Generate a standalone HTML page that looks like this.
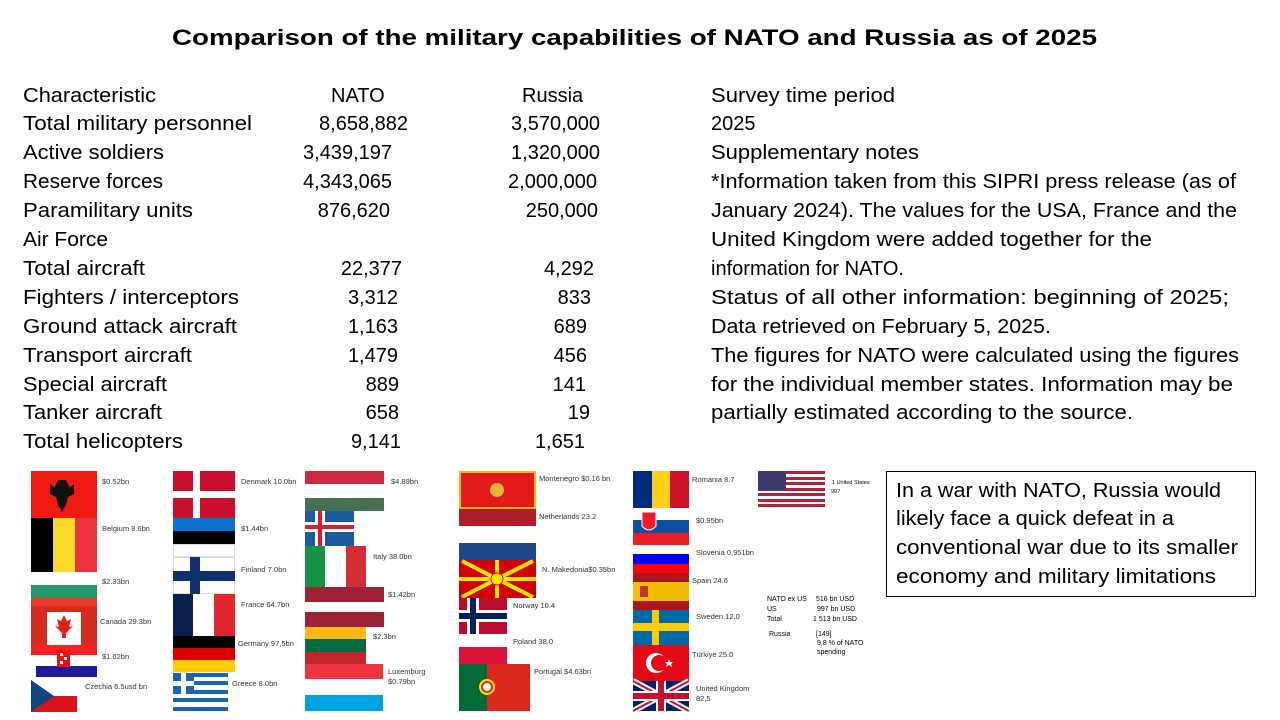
<!DOCTYPE html>
<html><head><meta charset="utf-8"><style>
html,body{margin:0;padding:0;background:#fff;}
svg{display:block}
text{font-family:"Liberation Sans",sans-serif;fill:#000}
.t{font-size:20px}
.s{font-size:7.5px;fill:#333}
</style></head><body>
<svg width="1280" height="720" viewBox="0 0 1280 720">
<rect width="1280" height="720" fill="#fff"/>
<text x="172" y="45" font-size="22" font-weight="bold" textLength="925" lengthAdjust="spacingAndGlyphs">Comparison of the military capabilities of NATO and Russia as of 2025</text>
<g class="t">
<text class="t" x="23" y="102" textLength="133" lengthAdjust="spacingAndGlyphs">Characteristic</text>
<text class="t" x="23" y="130" textLength="229" lengthAdjust="spacingAndGlyphs">Total military personnel</text>
<text class="t" x="23" y="159" textLength="141" lengthAdjust="spacingAndGlyphs">Active soldiers</text>
<text class="t" x="23" y="188" textLength="140" lengthAdjust="spacingAndGlyphs">Reserve forces</text>
<text class="t" x="23" y="217" textLength="170" lengthAdjust="spacingAndGlyphs">Paramilitary units</text>
<text class="t" x="23" y="246" textLength="85" lengthAdjust="spacingAndGlyphs">Air Force</text>
<text class="t" x="23" y="275" textLength="122" lengthAdjust="spacingAndGlyphs">Total aircraft</text>
<text class="t" x="23" y="304" textLength="216" lengthAdjust="spacingAndGlyphs">Fighters / interceptors</text>
<text class="t" x="23" y="333" textLength="214" lengthAdjust="spacingAndGlyphs">Ground attack aircraft</text>
<text class="t" x="23" y="362" textLength="169" lengthAdjust="spacingAndGlyphs">Transport aircraft</text>
<text class="t" x="23" y="391" textLength="144" lengthAdjust="spacingAndGlyphs">Special aircraft</text>
<text class="t" x="23" y="419" textLength="139" lengthAdjust="spacingAndGlyphs">Tanker aircraft</text>
<text class="t" x="23" y="448" textLength="160" lengthAdjust="spacingAndGlyphs">Total helicopters</text>

<text class="t" x="331" y="102">NATO</text>
<text class="t" x="408" y="130" text-anchor="end">8,658,882</text>
<text class="t" x="392" y="159" text-anchor="end">3,439,197</text>
<text class="t" x="392" y="188" text-anchor="end">4,343,065</text>
<text class="t" x="390" y="217" text-anchor="end">876,620</text>
<text class="t" x="402" y="275" text-anchor="end">22,377</text>
<text class="t" x="398" y="304" text-anchor="end">3,312</text>
<text class="t" x="398" y="333" text-anchor="end">1,163</text>
<text class="t" x="398" y="362" text-anchor="end">1,479</text>
<text class="t" x="399" y="391" text-anchor="end">889</text>
<text class="t" x="399" y="419" text-anchor="end">658</text>
<text class="t" x="401" y="448" text-anchor="end">9,141</text>

<text class="t" x="522" y="102">Russia</text>
<text class="t" x="600" y="130" text-anchor="end">3,570,000</text>
<text class="t" x="600" y="159" text-anchor="end">1,320,000</text>
<text class="t" x="597" y="188" text-anchor="end">2,000,000</text>
<text class="t" x="598" y="217" text-anchor="end">250,000</text>
<text class="t" x="594" y="275" text-anchor="end">4,292</text>
<text class="t" x="591" y="304" text-anchor="end">833</text>
<text class="t" x="587" y="333" text-anchor="end">689</text>
<text class="t" x="587" y="362" text-anchor="end">456</text>
<text class="t" x="586" y="391" text-anchor="end">141</text>
<text class="t" x="590" y="419" text-anchor="end">19</text>
<text class="t" x="585" y="448" text-anchor="end">1,651</text>

<text class="t" x="711" y="102" textLength="184" lengthAdjust="spacingAndGlyphs">Survey time period</text>
<text class="t" x="711" y="130">2025</text>
<text class="t" x="711" y="159" textLength="208" lengthAdjust="spacingAndGlyphs">Supplementary notes</text>
<text class="t" x="711" y="188" textLength="525" lengthAdjust="spacingAndGlyphs">*Information taken from this SIPRI press release (as of</text>
<text class="t" x="711" y="217" textLength="526" lengthAdjust="spacingAndGlyphs">January 2024). The values for the USA, France and the</text>
<text class="t" x="711" y="246" textLength="441" lengthAdjust="spacingAndGlyphs">United Kingdom were added together for the</text>
<text class="t" x="711" y="275" textLength="193" lengthAdjust="spacingAndGlyphs">information for NATO.</text>
<text class="t" x="711" y="304" textLength="518" lengthAdjust="spacingAndGlyphs">Status of all other information: beginning of 2025;</text>
<text class="t" x="711" y="333" textLength="340" lengthAdjust="spacingAndGlyphs">Data retrieved on February 5, 2025.</text>
<text class="t" x="711" y="362" textLength="528" lengthAdjust="spacingAndGlyphs">The figures for NATO were calculated using the figures</text>
<text class="t" x="711" y="391" textLength="522" lengthAdjust="spacingAndGlyphs">for the individual member states. Information may be</text>
<text class="t" x="711" y="419" textLength="422" lengthAdjust="spacingAndGlyphs">partially estimated according to the source.</text>
</g>

<rect x="886.5" y="471.5" width="369" height="125" fill="#fff" stroke="#000" stroke-width="1"/>
<text class="t" x="896" y="497" textLength="325" lengthAdjust="spacingAndGlyphs">In a war with NATO, Russia would</text>
<text class="t" x="896" y="525" textLength="278" lengthAdjust="spacingAndGlyphs">likely face a quick defeat in a</text>
<text class="t" x="896" y="554" textLength="342" lengthAdjust="spacingAndGlyphs">conventional war due to its smaller</text>
<text class="t" x="896" y="583" textLength="320" lengthAdjust="spacingAndGlyphs">economy and military limitations</text>

<!-- Column 1 -->
<rect x="31" y="471" width="66" height="47" fill="#f01a12"/>
<path d="M58 480 L66 480 L70 488 L66 505 L62 512 L58 505 L54 488 Z" fill="#111"/>
<path d="M50 484 L58 490 L58 498 L50 494 Z M74 484 L66 490 L66 498 L74 494 Z" fill="#111"/>
<rect x="31" y="518" width="22" height="54" fill="#000"/>
<rect x="53" y="518" width="22" height="54" fill="#fbd92a"/>
<rect x="75" y="518" width="22" height="54" fill="#ee3340"/>
<rect x="31" y="585" width="66" height="13" fill="#27976a"/>
<rect x="31" y="598" width="66" height="47" fill="#d52b1e"/>
<rect x="31" y="598" width="66" height="8" fill="#e8392d"/>
<rect x="47" y="612" width="34" height="33" fill="#fff"/>
<path d="M64 615 L67 621 L71 619 L69 627 L73 626 L66 633 L66 638 L62 638 L62 633 L55 626 L59 627 L57 619 L61 621 Z" fill="#e2201e"/>
<rect x="31" y="645" width="66" height="10" fill="#f41f20"/>
<rect x="31" y="655" width="66" height="11" fill="#fff"/>
<rect x="36" y="666" width="61" height="11" fill="#1d1b9b"/>
<rect x="57" y="650" width="13" height="17" fill="#e11" />
<rect x="60" y="653" width="3" height="3" fill="#fff"/><rect x="64" y="657" width="3" height="3" fill="#fff"/><rect x="60" y="661" width="3" height="3" fill="#fff"/>
<rect x="31" y="680" width="46" height="16" fill="#fff"/>
<rect x="31" y="696" width="46" height="16" fill="#d7141a"/>
<path d="M31 680 L54 696 L31 712 Z" fill="#11457e"/>
<text class="s" x="102" y="484">$0.52bn</text>
<text class="s" x="102" y="531">Belgium 8.6bn</text>
<text class="s" x="102" y="584">$2.33bn</text>
<text class="s" x="100" y="624">Canada 29.3bn</text>
<text class="s" x="102" y="659">$1.62bn</text>
<text class="s" x="85" y="689">Czechia 6.5usd bn</text>

<!-- Column 2 -->
<rect x="173" y="471" width="62" height="20" fill="#c8102e"/>
<rect x="193" y="471" width="7" height="20" fill="#fff"/>
<rect x="173" y="498" width="62" height="20" fill="#c8102e"/>
<rect x="193" y="498" width="7" height="20" fill="#fff"/>
<rect x="173" y="518" width="62" height="13" fill="#0a72cf"/>
<rect x="173" y="531" width="62" height="13" fill="#000"/>
<rect x="173.5" y="544.5" width="61" height="12" fill="#fff" stroke="#ddd"/>
<rect x="173.5" y="557.5" width="61" height="36" fill="#fff" stroke="#ddd"/>
<rect x="190" y="557" width="10" height="37" fill="#102f6f"/>
<rect x="173" y="571" width="62" height="10" fill="#102f6f"/>
<rect x="173" y="594" width="20" height="42" fill="#0b1f4f"/>
<rect x="214" y="594" width="21" height="42" fill="#e1262e"/>
<rect x="173" y="636" width="62" height="12" fill="#000"/>
<rect x="173" y="648" width="62" height="12" fill="#dd0000"/>
<rect x="173" y="660" width="62" height="12" fill="#ffce00"/>
<g fill="#1b63b5">
<rect x="173" y="673" width="55" height="4"/><rect x="173" y="681" width="55" height="4"/><rect x="173" y="690" width="55" height="4"/><rect x="173" y="698" width="55" height="4"/><rect x="173" y="707" width="55" height="4"/>
<rect x="173" y="673" width="21" height="21"/>
</g>
<rect x="181" y="673" width="5" height="21" fill="#fff"/><rect x="173" y="681" width="21" height="5" fill="#fff"/>
<text class="s" x="241" y="484">Denmark 10.0bn</text>
<text class="s" x="241" y="531">$1.44bn</text>
<text class="s" x="241" y="572">Finland 7.0bn</text>
<text class="s" x="241" y="607">France 64.7bn</text>
<text class="s" x="238" y="646">Germany 97,5bn</text>
<text class="s" x="232" y="686">Greece 8.0bn</text>

<!-- Column 3 -->
<rect x="305" y="471" width="79" height="13" fill="#cd2a3e"/>
<rect x="305" y="498" width="79" height="13" fill="#477050"/>
<rect x="305" y="511" width="49" height="35" fill="#1d5aa4"/>
<rect x="315" y="511" width="10" height="35" fill="#fff"/>
<rect x="305" y="522" width="49" height="10" fill="#fff"/>
<rect x="318" y="511" width="4" height="35" fill="#dc1e35"/>
<rect x="305" y="525" width="49" height="4" fill="#dc1e35"/>
<rect x="305" y="546" width="20" height="41" fill="#159347"/>
<rect x="346" y="546" width="20" height="41" fill="#d32e33"/>
<rect x="305" y="587" width="79" height="15" fill="#9e2236"/>
<rect x="305" y="612" width="79" height="15" fill="#9e2236"/>
<rect x="305" y="627" width="61" height="12" fill="#fdb913"/>
<rect x="305" y="639" width="61" height="13" fill="#006a44"/>
<rect x="305" y="652" width="61" height="12" fill="#c1272d"/>
<rect x="305" y="664" width="78" height="15" fill="#ef3340"/>
<rect x="305" y="695" width="78" height="16" fill="#00a2e1"/>
<text class="s" x="391" y="484">$4.89bn</text>
<text class="s" x="373" y="559">Italy 38.0bn</text>
<text class="s" x="388" y="597">$1.42bn</text>
<text class="s" x="373" y="639">$2.3bn</text>
<text class="s" x="388" y="674">Luxemburg</text>
<text class="s" x="388" y="684">$0.79bn</text>

<!-- Column 4 -->
<rect x="459" y="471" width="77" height="38" fill="#f5b71c"/>
<rect x="461" y="473" width="73" height="34" fill="#e21a1a"/>
<circle cx="497" cy="490" r="7" fill="#e9b23a"/>
<rect x="459" y="509" width="77" height="17" fill="#ae1c28"/>
<rect x="459" y="543" width="77" height="17" fill="#21468b"/>
<rect x="459" y="560" width="77" height="38" fill="#d20000"/>
<g stroke="#ffe600" stroke-width="4">
<line x1="497" y1="579" x2="459" y2="579"/><line x1="497" y1="579" x2="536" y2="579"/>
<line x1="497" y1="579" x2="497" y2="560"/><line x1="497" y1="579" x2="497" y2="598"/>
<line x1="497" y1="579" x2="462" y2="561"/><line x1="497" y1="579" x2="533" y2="561"/>
<line x1="497" y1="579" x2="462" y2="597"/><line x1="497" y1="579" x2="533" y2="597"/>
</g>
<circle cx="497" cy="579" r="6" fill="#ffe600" stroke="#d20000" stroke-width="1"/>
<rect x="459" y="598" width="48" height="36" fill="#ba0c2f"/>
<rect x="467" y="598" width="12" height="36" fill="#fff"/>
<rect x="459" y="610" width="48" height="12" fill="#fff"/>
<rect x="470" y="598" width="6" height="36" fill="#00205b"/>
<rect x="459" y="613" width="48" height="6" fill="#00205b"/>
<rect x="459" y="647" width="48" height="17" fill="#dc143c"/>
<rect x="459" y="664" width="28" height="47" fill="#046a38"/>
<rect x="487" y="664" width="43" height="47" fill="#da291c"/>
<circle cx="487" cy="687" r="8" fill="#ffe900"/>
<circle cx="487" cy="687" r="5" fill="#fff" stroke="#da291c" stroke-width="2"/>
<text class="s" x="539" y="481">Montenegro $0.16 bn</text>
<text class="s" x="539" y="519">Netherlands 23.2</text>
<text class="s" x="542" y="572">N. Makedonia$0.35bn</text>
<text class="s" x="513" y="608">Norway 10.4</text>
<text class="s" x="513" y="644">Poland 38.0</text>
<text class="s" x="534" y="674">Portugal $4.63bn</text>

<!-- Column 5 -->
<rect x="633" y="471" width="19" height="37" fill="#002b7f"/>
<rect x="652" y="471" width="18" height="37" fill="#fcd116"/>
<rect x="670" y="471" width="19" height="37" fill="#ce1126"/>
<rect x="633" y="508" width="56" height="12" fill="#fff"/>
<rect x="633" y="520" width="56" height="13" fill="#0b4ea2"/>
<rect x="633" y="533" width="56" height="12" fill="#ee1c25"/>
<path d="M642 512 L656 512 L656 526 Q649 534 642 526 Z" fill="#ee1c25" stroke="#fff" stroke-width="1"/>
<rect x="633" y="545" width="56" height="9" fill="#fff"/>
<rect x="633" y="554" width="56" height="10" fill="#0000ff"/>
<rect x="633" y="564" width="56" height="9" fill="#ff0000"/>
<rect x="633" y="573" width="56" height="9" fill="#aa151b"/>
<rect x="633" y="582" width="56" height="19" fill="#f1bf00"/>
<rect x="633" y="601" width="56" height="9" fill="#aa151b"/>
<rect x="640" y="586" width="8" height="11" fill="#c0392b"/>
<rect x="633" y="610" width="56" height="35" fill="#006aa7"/>
<rect x="652" y="610" width="7" height="35" fill="#fecc00"/>
<rect x="633" y="623" width="56" height="8" fill="#fecc00"/>
<rect x="633" y="645" width="56" height="36" fill="#e30a17"/>
<circle cx="656" cy="663" r="10" fill="#fff"/>
<circle cx="659" cy="663" r="8" fill="#e30a17"/>
<path d="M669 659 L670 662 L673 662 L671 664 L672 667 L669 665 L666 667 L667 664 L665 662 L668 662 Z" fill="#fff"/>
<g>
<rect x="633" y="681" width="56" height="30" fill="#012169"/>
<path d="M633 681 L689 711 M689 681 L633 711" stroke="#fff" stroke-width="6"/>
<path d="M633 681 L689 711 M689 681 L633 711" stroke="#c8102e" stroke-width="2"/>
<rect x="656" y="681" width="10" height="30" fill="#fff"/>
<rect x="633" y="691" width="56" height="10" fill="#fff"/>
<rect x="658" y="681" width="6" height="30" fill="#c8102e"/>
<rect x="633" y="693" width="56" height="6" fill="#c8102e"/>
</g>
<text class="s" x="692" y="482">Romania 8.7</text>
<text class="s" x="696" y="523">$0.95bn</text>
<text class="s" x="696" y="555">Slovenia 0,951bn</text>
<text class="s" x="692" y="583">Spain 24.6</text>
<text class="s" x="696" y="619">Sweden 12.0</text>
<text class="s" x="692" y="657">Türkiye 25.0</text>
<text class="s" x="696" y="691" font-size="6.5">United Kingdom</text>
<text class="s" x="696" y="701" font-size="6.5">82,5</text>

<!-- USA -->
<g>
<rect x="758" y="471" width="67" height="36" fill="#fff"/>
<rect x="758" y="471" width="67" height="3" fill="#b22234"/>
<rect x="758" y="477" width="67" height="3" fill="#b22234"/>
<rect x="758" y="482" width="67" height="3" fill="#b22234"/>
<rect x="758" y="488" width="67" height="3" fill="#b22234"/>
<rect x="758" y="493" width="67" height="3" fill="#b22234"/>
<rect x="758" y="499" width="67" height="3" fill="#b22234"/>
<rect x="758" y="504" width="67" height="3" fill="#b22234"/>
<rect x="758" y="471" width="28" height="20" fill="#3c3b6e"/>
</g>
<text x="832" y="484" font-size="5.5" fill="#333">1 United States</text>
<text x="831" y="493" font-size="5.5" fill="#333">997</text>

<g font-size="7" fill="#222">
<text x="767" y="601">NATO ex US</text><text x="816" y="601">516 bn USD</text>
<text x="767" y="611">US</text><text x="817" y="611">997 bn USD</text>
<text x="767" y="621">Total</text><text x="813" y="621">1 513 bn USD</text>
<text x="769" y="636">Russia</text><text x="816" y="636">[149]</text>
<text x="817" y="645">9,8 % of NATO</text>
<text x="817" y="654">spending</text>
</g>
</svg>
</body></html>
